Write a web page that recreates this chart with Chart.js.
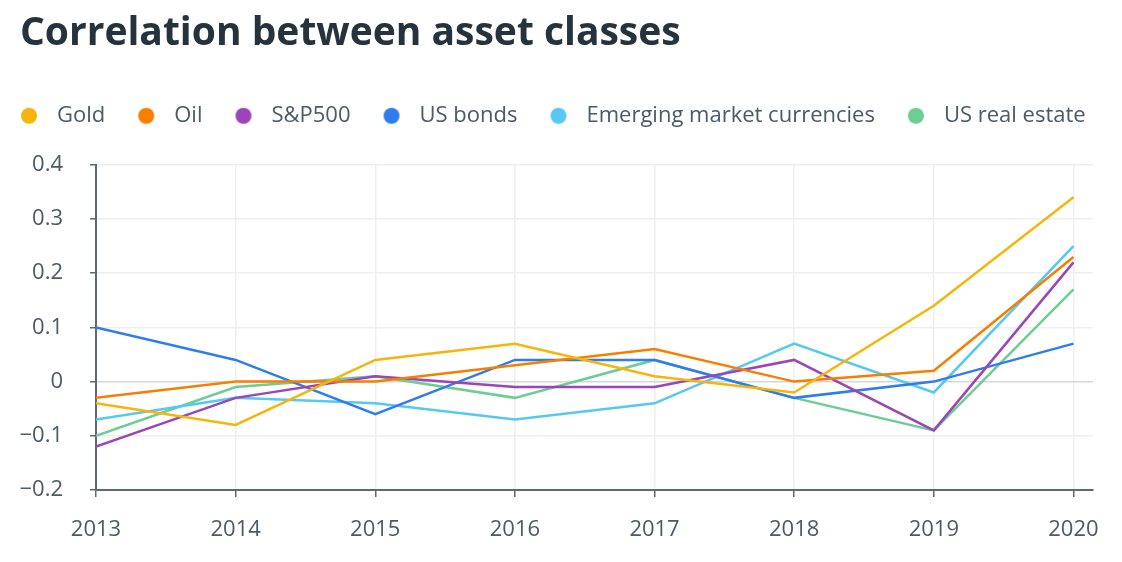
<!DOCTYPE html>
<html>
<head>
<meta charset="utf-8">
<script src="https://cdn.jsdelivr.net/npm/chart.js@4/dist/chart.umd.min.js"></script>
<style>
  html, body { margin: 0; padding: 0; background: #fff; }
  #wrap { width: 1122px; height: 562px; }
</style>
</head>
<body>
<div id="wrap"><canvas id="chartLine"></canvas></div>
<script>
const years = [2013, 2014, 2015, 2016, 2017, 2018, 2019, 2020];
const gold = [-0.04, -0.08, 0.04, 0.07, 0.01, -0.02, 0.14, 0.34];
const oil = [-0.03, 0, 0, 0.03, 0.06, 0, 0.02, 0.23];
const sp500 = [-0.12, -0.03, 0.01, -0.01, -0.01, 0.04, -0.09, 0.22];
const usBonds = [0.10, 0.04, -0.06, 0.04, 0.04, -0.03, 0, 0.07];
const emCurrencies = [-0.07, -0.03, -0.04, -0.07, -0.04, 0.07, -0.02, 0.25];
const usRealEstate = [-0.10, -0.01, 0.01, -0.03, 0.04, -0.03, -0.09, 0.17];

const seriesNames = ["Gold", "Oil", "S&P500", "US bonds", "Emerging market currencies", "US real estate"];
const seriesValues = [gold, oil, sp500, usBonds, emCurrencies, usRealEstate];
const seriesColors = ["#f5b50a", "#f77f00", "#9b45b8", "#2f7ded", "#55c9f2", "#6dcd94"];

const textColor = "#4b5a65";
const axisColor = "#5d6a73";

// legend dot, drawn a bit left of the image centre so the text gap is wider
function legendDot(color) {
    const c = document.createElement("canvas");
    c.width = 34;
    c.height = 18;
    const ctx = c.getContext("2d");
    ctx.fillStyle = color;
    ctx.beginPath();
    ctx.arc(11, 9, 8, 0, Math.PI * 2);
    ctx.fill();
    return c;
}

function makeDataset(name, values, color) {
    return {
        label: name,
        data: values.map(function(v, i) { return { x: years[i], y: v }; }),
        borderColor: color,
        backgroundColor: color,
        borderWidth: 2.5,
        pointRadius: 0,
        pointHoverRadius: 0,
        tension: 0,
        fill: false,
        dot: legendDot(color),
    };
}

const data = {
    datasets: seriesNames.map(function(n, i) { return makeDataset(n, seriesValues[i], seriesColors[i]); }),
};

// keep the legend on one row and give it a fixed height
const legendTweak = {
    id: "legendTweak",
    beforeInit: function(chart) {
        const fit = chart.legend.fit;
        chart.legend.fit = function() {
            this.maxWidth = 1400;
            fit.call(this);
            this.height = 96;
        };
    },
    beforeDraw: function(chart) {
        chart.legend.left = -12;
        chart.legend.right = 1400;
    },
};

const configLineChart = {
    type: "line",
    data,
    plugins: [legendTweak],
    options: {
        responsive: true,
        maintainAspectRatio: false,
        animation: false,
        layout: { padding: { left: 20, right: 29, top: 10, bottom: 0 } },
        plugins: {
            title: {
                display: true,
                text: "Correlation between asset classes",
                align: "start",
                color: "#26333c",
                font: { family: "'Open Sans'", size: 39, weight: "bold" },
                padding: { top: 0, bottom: 12 },
            },
            legend: {
                align: "start",
                labels: {
                    usePointStyle: true,
                    boxWidth: 22,
                    boxHeight: 11,
                    padding: 36,
                    color: textColor,
                    font: { family: "'Open Sans'", size: 22 },
                    generateLabels: function(chart) {
                        return chart.data.datasets.map(function(ds, i) {
                            return {
                                text: ds.label,
                                fillStyle: ds.borderColor,
                                strokeStyle: ds.borderColor,
                                lineWidth: 0,
                                pointStyle: ds.dot,
                                fontColor: textColor,
                                datasetIndex: i,
                            };
                        });
                    },
                },
            },
            tooltip: { enabled: false },
        },
        scales: {
            x: {
                type: "linear",
                min: 2013,
                max: 2020.14,
                afterFit: function(scale) { scale.height = 72; },
                border: { color: axisColor, width: 2 },
                grid: { color: "#efefef", tickColor: axisColor, tickLength: 7, lineWidth: 1.5 },
                ticks: {
                    stepSize: 1,
                    includeBounds: false,
                    padding: 20,
                    color: textColor,
                    font: { family: "'Open Sans'", size: 22 },
                    maxRotation: 0,
                    callback: function(v) { return String(v); },
                },
            },
            y: {
                min: -0.2,
                max: 0.4,
                afterFit: function(scale) { scale.width = 76; },
                border: { color: axisColor, width: 2 },
                grid: {
                    color: function(ctx) { return ctx.tick && Math.abs(ctx.tick.value) < 1e-9 ? "#d3d7d9" : "#efefef"; },
                    tickColor: axisColor,
                    tickLength: 6,
                    lineWidth: 1.5,
                },
                ticks: {
                    stepSize: 0.1,
                    padding: 27,
                    color: textColor,
                    font: { family: "'Open Sans'", size: 22 },
                    callback: function(v) {
                        const r = Math.round(v * 10) / 10;
                        if (r === 0) return "0";
                        return r < 0 ? "\u2212" + Math.abs(r).toFixed(1) : r.toFixed(1);
                    },
                },
            },
        },
    },
};

var chartLine = new Chart(
    document.getElementById("chartLine"),
    configLineChart
);
</script>
</body>
</html>
